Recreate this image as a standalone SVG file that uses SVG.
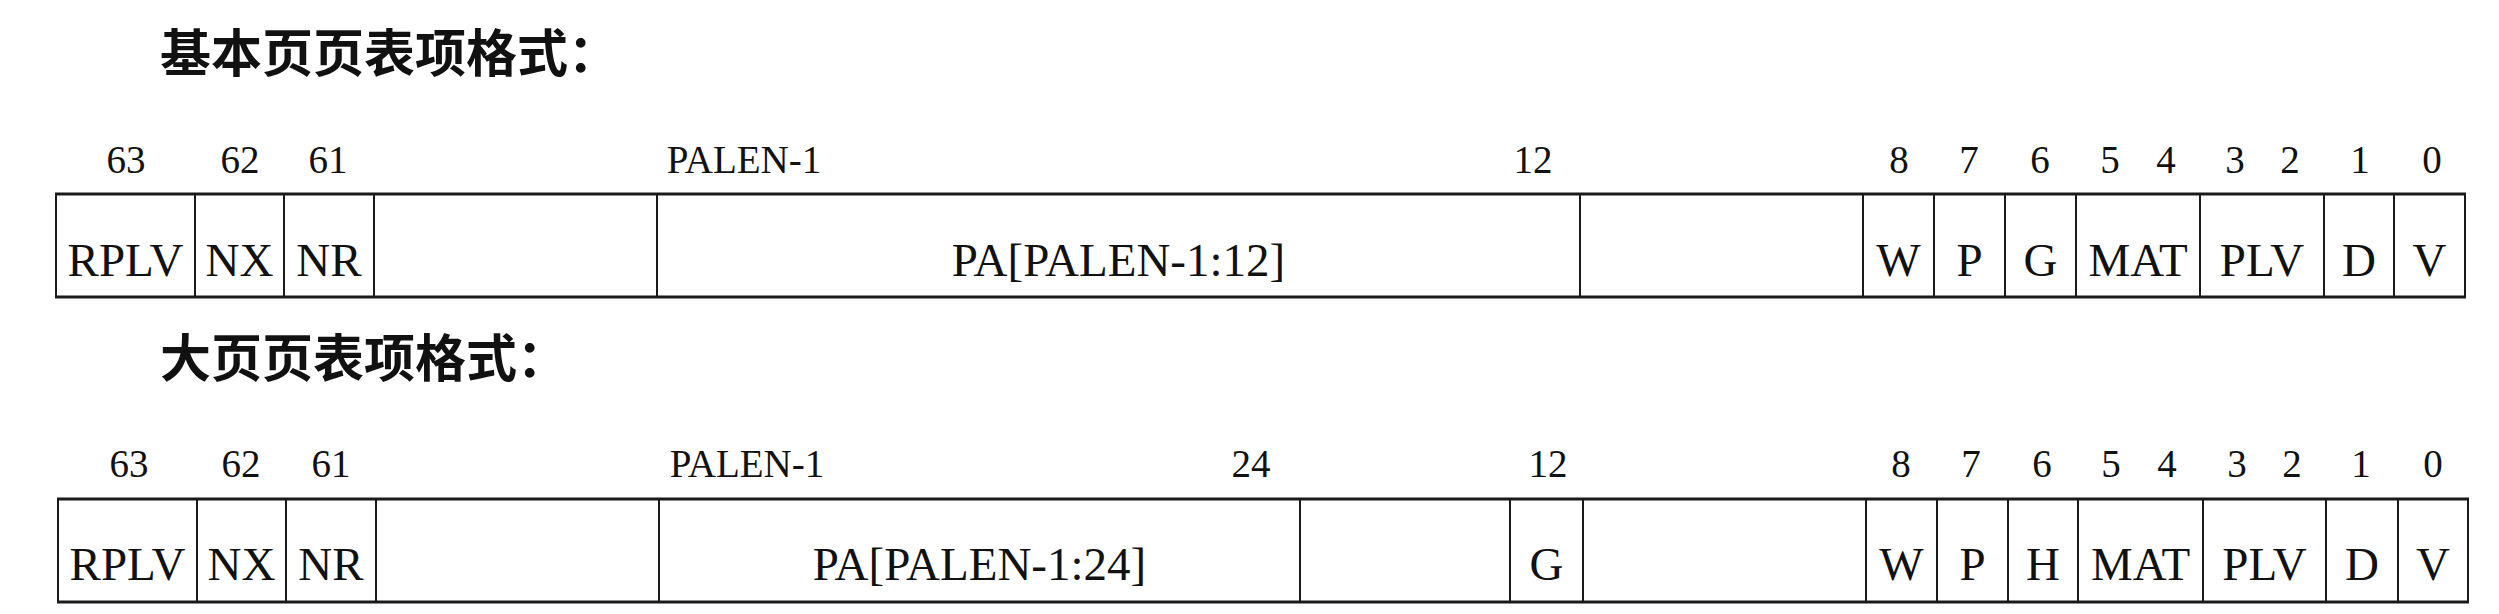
<svg xmlns="http://www.w3.org/2000/svg" width="2499" height="614" viewBox="0 0 2499 614">
<style>
.bg{fill:#ffffff}
.cell{fill:none;stroke:#1a1a1a;stroke-width:2}
.edge{stroke:#1a1a1a;stroke-width:3}
.lbl{font-family:'Liberation Serif','DejaVu Serif',serif;font-size:47px;fill:#111;text-anchor:middle}
.num{font-family:'Liberation Serif','DejaVu Serif',serif;font-size:39px;fill:#111;text-anchor:middle}
.title{font-family:'Noto Sans CJK SC',sans-serif;font-size:51px;font-weight:700;fill:#111}
</style>
<rect class="bg" x="0" y="0" width="2499" height="614"/>
<text class="title" x="160" y="72">基本页页表项格式：</text>
<text class="title" x="160" y="377">大页页表项格式：</text>
<g id="basic-bits">
<text class="num" x="126" y="173">63</text>
<text class="num" x="240" y="173">62</text>
<text class="num" x="328" y="173">61</text>
<text class="num" x="744" y="173">PALEN-1</text>
<text class="num" x="1533" y="173">12</text>
<text class="num" x="1899" y="173">8</text>
<text class="num" x="1969" y="173">7</text>
<text class="num" x="2040" y="173">6</text>
<text class="num" x="2110" y="173">5</text>
<text class="num" x="2166" y="173">4</text>
<text class="num" x="2235" y="173">3</text>
<text class="num" x="2290" y="173">2</text>
<text class="num" x="2360" y="173">1</text>
<text class="num" x="2432" y="173">0</text>
</g>
<g id="basic-table">
<g id="b-rplv"><rect class="cell" x="56" y="194" width="139" height="103"/><text class="lbl" x="125.5" y="276">RPLV</text></g>
<g id="b-nx"><rect class="cell" x="195" y="194" width="89" height="103"/><text class="lbl" x="239.5" y="276">NX</text></g>
<g id="b-nr"><rect class="cell" x="284" y="194" width="90" height="103"/><text class="lbl" x="329" y="276">NR</text></g>
<g id="b-rsv1"><rect class="cell" x="374" y="194" width="283" height="103"/></g>
<g id="b-pa"><rect class="cell" x="657" y="194" width="923" height="103"/><text class="lbl" x="1118.5" y="276">PA[PALEN-1:12]</text></g>
<g id="b-rsv2"><rect class="cell" x="1580" y="194" width="283" height="103"/></g>
<g id="b-w"><rect class="cell" x="1863" y="194" width="71" height="103"/><text class="lbl" x="1898.5" y="276">W</text></g>
<g id="b-p"><rect class="cell" x="1934" y="194" width="71" height="103"/><text class="lbl" x="1969.5" y="276">P</text></g>
<g id="b-g"><rect class="cell" x="2005" y="194" width="71" height="103"/><text class="lbl" x="2040.5" y="276">G</text></g>
<g id="b-mat"><rect class="cell" x="2076" y="194" width="124" height="103"/><text class="lbl" x="2138" y="276">MAT</text></g>
<g id="b-plv"><rect class="cell" x="2200" y="194" width="124" height="103"/><text class="lbl" x="2262" y="276">PLV</text></g>
<g id="b-d"><rect class="cell" x="2324" y="194" width="70" height="103"/><text class="lbl" x="2359" y="276">D</text></g>
<g id="b-v"><rect class="cell" x="2394" y="194" width="71" height="103"/><text class="lbl" x="2429.5" y="276">V</text></g>
<line class="edge" x1="55" y1="194" x2="2466" y2="194"/>
<line class="edge" x1="55" y1="297" x2="2466" y2="297"/>
</g>
<g id="huge-bits">
<text class="num" x="129" y="477">63</text>
<text class="num" x="241" y="477">62</text>
<text class="num" x="331" y="477">61</text>
<text class="num" x="747" y="477">PALEN-1</text>
<text class="num" x="1251" y="477">24</text>
<text class="num" x="1548" y="477">12</text>
<text class="num" x="1901" y="477">8</text>
<text class="num" x="1971" y="477">7</text>
<text class="num" x="2042" y="477">6</text>
<text class="num" x="2111" y="477">5</text>
<text class="num" x="2167" y="477">4</text>
<text class="num" x="2237" y="477">3</text>
<text class="num" x="2292" y="477">2</text>
<text class="num" x="2361" y="477">1</text>
<text class="num" x="2433" y="477">0</text>
</g>
<g id="huge-table">
<g id="h-rplv"><rect class="cell" x="58" y="499" width="139" height="103"/><text class="lbl" x="127.5" y="580">RPLV</text></g>
<g id="h-nx"><rect class="cell" x="197" y="499" width="89" height="103"/><text class="lbl" x="241.5" y="580">NX</text></g>
<g id="h-nr"><rect class="cell" x="286" y="499" width="90" height="103"/><text class="lbl" x="331" y="580">NR</text></g>
<g id="h-rsv1"><rect class="cell" x="376" y="499" width="283" height="103"/></g>
<g id="h-pa"><rect class="cell" x="659" y="499" width="641" height="103"/><text class="lbl" x="979.5" y="580">PA[PALEN-1:24]</text></g>
<g id="h-rsv2"><rect class="cell" x="1300" y="499" width="210" height="103"/></g>
<g id="h-g"><rect class="cell" x="1510" y="499" width="73" height="103"/><text class="lbl" x="1546.5" y="580">G</text></g>
<g id="h-rsv3"><rect class="cell" x="1583" y="499" width="283" height="103"/></g>
<g id="h-w"><rect class="cell" x="1866" y="499" width="71" height="103"/><text class="lbl" x="1901.5" y="580">W</text></g>
<g id="h-p"><rect class="cell" x="1937" y="499" width="71" height="103"/><text class="lbl" x="1972.5" y="580">P</text></g>
<g id="h-h"><rect class="cell" x="2008" y="499" width="70" height="103"/><text class="lbl" x="2043" y="580">H</text></g>
<g id="h-mat"><rect class="cell" x="2078" y="499" width="125" height="103"/><text class="lbl" x="2140.5" y="580">MAT</text></g>
<g id="h-plv"><rect class="cell" x="2203" y="499" width="123" height="103"/><text class="lbl" x="2264.5" y="580">PLV</text></g>
<g id="h-d"><rect class="cell" x="2326" y="499" width="72" height="103"/><text class="lbl" x="2362" y="580">D</text></g>
<g id="h-v"><rect class="cell" x="2398" y="499" width="70" height="103"/><text class="lbl" x="2433" y="580">V</text></g>
<line class="edge" x1="57" y1="499" x2="2469" y2="499"/>
<line class="edge" x1="57" y1="602" x2="2469" y2="602"/>
</g>
<g id="connectors"></g>
</svg>
